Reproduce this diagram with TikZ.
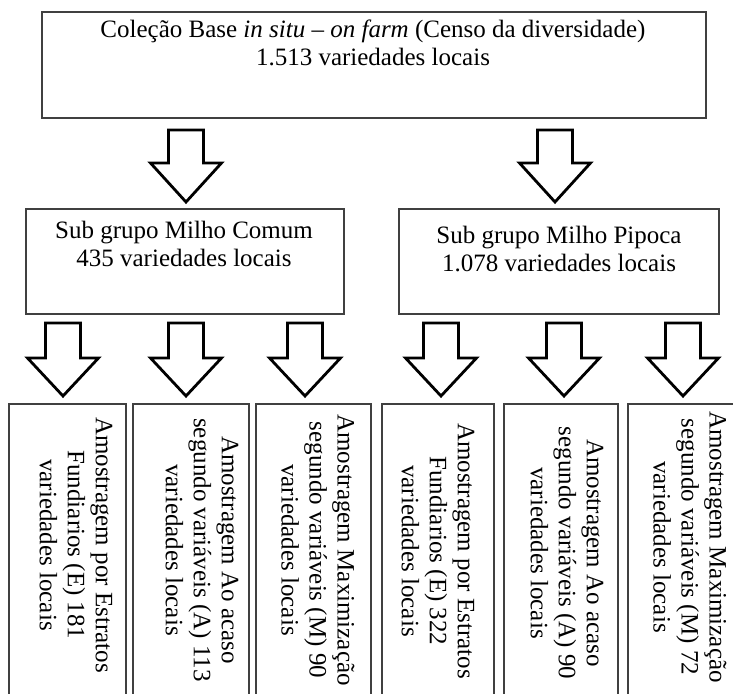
\documentclass[tikz,border=0pt]{standalone}
\usepackage{fontspec}
\setmainfont{Liberation Serif}
\newcommand{\blockarrow}[4]{% x, ytop, yhead, ytip
  \draw[barrow] (#1-17.5,#2) -- (#1+17.5,#2) -- (#1+17.5,#3) -- (#1+35.5,#3)
    -- (#1,#4) -- (#1-35.5,#3) -- (#1-17.5,#3) -- cycle;}
\begin{document}
\begin{tikzpicture}[x=1pt,y=-1pt,
  box/.style={draw=black!75,line width=2.4pt,inner sep=0pt,anchor=north west},
  barrow/.style={draw=black,line width=2.8pt,fill=white,line join=miter},
  txt/.style={font=\fontsize{25}{28}\selectfont,align=center,inner sep=0pt,text=black}]
\useasboundingbox (0,0) rectangle (733,693);
\clip (0,0) rectangle (733,693);
\fill[white] (0,0) rectangle (733,693);

% top box
\node[box,minimum width=664pt,minimum height=106pt] (top) at (41,11) {};
\node[txt] (toptxt) at (373,43) {Coleção Base \textit{in situ – on farm} (Censo da diversidade)\\1.513 variedades locais};

% top arrows
\blockarrow{186}{130}{163}{202}
\blockarrow{555}{130}{163}{202}

% sub-group boxes
\node[box,minimum width=318pt,minimum height=105pt] (comum) at (25,208) {};
\node[txt] (comumtxt) at (184,243.5) {Sub grupo Milho Comum\\435 variedades locais};
\node[box,minimum width=320pt,minimum height=105pt] (pipoca) at (398,208) {};
\node[txt] (pipocatxt) at (559,249) {Sub grupo Milho Pipoca\\1.078 variedades locais};

% bottom arrows
\foreach \ax in {63,186,305,441,564,683} {\blockarrow{\ax}{323}{358}{396}}

% bottom boxes
\node[box,minimum width=117pt,minimum height=330pt] (b1) at (8,403) {};
\node[box,minimum width=116pt,minimum height=330pt] (b2) at (132,403) {};
\node[box,minimum width=115pt,minimum height=330pt] (b3) at (255,403) {};
\node[box,minimum width=112pt,minimum height=330pt] (b4) at (381,403) {};
\node[box,minimum width=114pt,minimum height=330pt] (b5) at (503,403) {};
\node[box,minimum width=117pt,minimum height=330pt] (b6) at (627,403) {};

\node[txt,rotate=-90] (t1) at (76,545) {Amostragem por Estratos\\Fundiarios (E) 181\\variedades locais};
\node[txt,rotate=-90] (t2) at (202,550) {Amostragem Ao acaso\\segundo variáveis (A) 113\\variedades locais};
\node[txt,rotate=-90] (t3) at (318,550) {Amostragem Maximização\\segundo variáveis (M) 90\\variedades locais};
\node[txt,rotate=-90] (t4) at (438,551) {Amostragem por Estratos\\Fundiarios (E) 322\\variedades locais};
\node[txt,rotate=-90] (t5) at (567,553) {Amostragem Ao acaso\\segundo variáveis (A) 90\\variedades locais};
\node[txt,rotate=-90] (t6) at (690,547) {Amostragem Maximização\\segundo variáveis (M) 72\\variedades locais};
\end{tikzpicture}
\end{document}
